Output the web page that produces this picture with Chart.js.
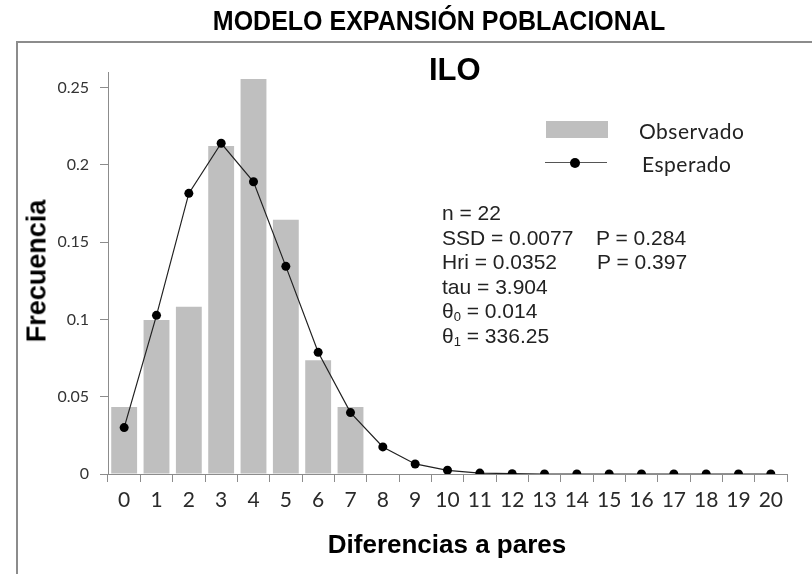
<!DOCTYPE html>
<html>
<head>
<meta charset="utf-8">
<script src="https://cdn.jsdelivr.net/npm/chart.js@4/dist/chart.umd.min.js"></script>
<style>
  html, body { margin: 0; padding: 0; background: #fff; }
  body { width: 812px; height: 574px; overflow: hidden; position: relative; font-family: "Liberation Sans", Arial, sans-serif; }
  #frame { position: absolute; left: 16px; top: 41px; width: 900px; height: 700px; border: 2px solid #8c8c8c; }
  #wrap { position: absolute; left: 0; top: 0; width: 812px; height: 574px; }
  .txt { position: absolute; white-space: nowrap; color: #000; }
  #title { left: 439px; top: 8px; font-size: 25px; line-height: 25px; font-weight: bold; transform: translateX(-50%) scaleY(1.08); }
  #ilo { left: 429px; top: 54px; font-size: 31px; line-height: 31px; font-weight: bold; }
  #ytitle { left: 37px; top: 271px; font-size: 27px; line-height: 27px; font-weight: bold; transform: translate(-50%, -50%) rotate(-90deg); }
  #xtitle { left: 447px; top: 544px; font-size: 26px; line-height: 26px; font-weight: bold; transform: translate(-50%, -50%); }
  #stats { left: 442px; top: 201px; font-size: 21px; line-height: 24.5px; color: #222; }
  #stats div { position: relative; }
  #stats span.p { position: absolute; top: 0; }
  #stats sub { font-size: 13px; vertical-align: -3px; line-height: 0; }
  .leg { font-family: Lato, "Open Sans", sans-serif; font-size: 21px; line-height: 21px; letter-spacing: 0.5px; color: #222; transform: translateY(-50%); }
  #legObs { left: 639px; top: 130px; }
  #legEsp { left: 642px; top: 163px; }
  #boxObs { position: absolute; left: 546px; top: 121px; width: 62px; height: 17px; background: #bfbfbf; }
  #lineEsp { position: absolute; left: 545px; top: 162px; width: 62px; height: 0; border-top: 1px solid #555; }
  #dotEsp { position: absolute; left: 570px; top: 158px; width: 10px; height: 10px; border-radius: 50%; background: #000; }
</style>
</head>
<body>
<div id="frame"></div>
<div id="wrap"><canvas id="chart" width="812" height="574"></canvas></div>

<div class="txt" id="title">MODELO EXPANSIÓN POBLACIONAL</div>
<div class="txt" id="ilo">ILO</div>
<div class="txt" id="ytitle">Frecuencia</div>
<div class="txt" id="xtitle">Diferencias a pares</div>

<div id="boxObs"></div>
<div class="txt leg" id="legObs">Observado</div>
<div id="lineEsp"></div>
<div id="dotEsp"></div>
<div class="txt leg" id="legEsp">Esperado</div>

<div class="txt" id="stats">
  <div>n = 22</div>
  <div>SSD = 0.0077<span class="p" style="left:154px">P = 0.284</span></div>
  <div>Hri = 0.0352<span class="p" style="left:155px">P = 0.397</span></div>
  <div>tau = 3.904</div>
  <div>θ<sub>0</sub> = 0.014</div>
  <div>θ<sub>1</sub> = 336.25</div>
</div>

<script>
const categories = ["0", "1", "2", "3", "4", "5", "6", "7", "8", "9", "10",
  "11", "12", "13", "14", "15", "16", "17", "18", "19", "20"];

// observed mismatch frequencies (bars)
const observado = [0.0433, 0.0996, 0.1082, 0.2121, 0.2554, 0.1645, 0.0736, 0.0433,
  null, null, null, null, null, null, null, null, null, null, null, null, null];

// expected under sudden expansion (line)
const esperado = [0.030, 0.1026, 0.1815, 0.2139, 0.189, 0.1343, 0.0787, 0.0397,
  0.0175, 0.0065, 0.0024, 0.0006, 0.0002, 0, 0, 0, 0, 0, 0, 0, 0];

const yTicks = [0, 0.05, 0.1, 0.15, 0.2, 0.25];

const axisColor = "#8c8c8c";

const ctx = document.getElementById("chart").getContext("2d");
new Chart(ctx, {
  type: "bar",
  data: {
    labels: categories,
    datasets: [
      {
        type: "line",
        label: "Esperado",
        data: esperado,
        borderColor: "#222",
        borderWidth: 1.2,
        pointRadius: 4.5,
        pointBackgroundColor: "#000",
        pointBorderColor: "#000",
        pointBorderWidth: 0,
        tension: 0,
        order: 0,
      },
      {
        label: "Observado",
        data: observado,
        backgroundColor: "#bfbfbf",
        barPercentage: 0.8,
        categoryPercentage: 1.0,
        order: 1,
      },
    ],
  },
  options: {
    responsive: false,
    animation: false,
    layout: { padding: { left: 0, top: 72, right: 25, bottom: 0 } },
    plugins: {
      legend: { display: false },
      tooltip: { enabled: false },
    },
    scales: {
      x: {
        grid: {
          offset: true,
          drawOnChartArea: false,
          drawTicks: true,
          tickLength: 8,
          color: axisColor,
        },
        border: { color: axisColor, width: 1 },
        ticks: {
          color: "#2a2a2a",
          padding: 6,
          font: { family: "Lato", size: 21 },
          maxRotation: 0,
          autoSkip: false,
        },
        afterFit: (scale) => { scale.height = 100; },
      },
      y: {
        min: 0,
        max: 0.26,
        grid: {
          drawOnChartArea: false,
          drawTicks: true,
          tickLength: 8,
          color: axisColor,
        },
        border: { color: axisColor, width: 1 },
        ticks: {
          stepSize: 0.05,
          includeBounds: false,
          color: "#333",
          padding: 11,
          font: { family: "Lato", size: 16 },
          callback: (v) => (yTicks.some((t) => Math.abs(t - v) < 1e-9) ? String(parseFloat(v.toFixed(2))) : ""),
        },
        afterFit: (scale) => { scale.width = 108; },
      },
    },
  },
});
</script>
</body>
</html>
